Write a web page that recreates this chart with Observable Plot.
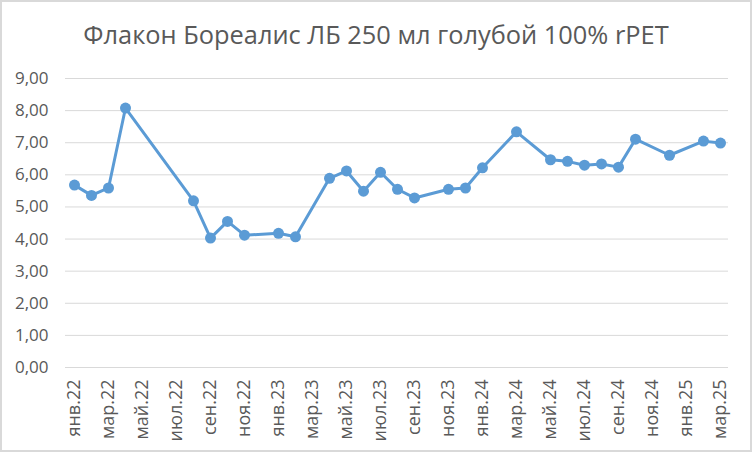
<!DOCTYPE html>
<html>
<head>
<meta charset="utf-8">
<script src="https://cdn.jsdelivr.net/npm/d3@7"></script>
<script src="https://cdn.jsdelivr.net/npm/@observablehq/plot@0.6"></script>
<style>
  html, body { margin: 0; padding: 0; background: #fff; }
  #wrap { position: relative; width: 752px; height: 452px; overflow: hidden; font-family: "Open Sans", sans-serif; }
  #title { height: 60px; box-sizing: border-box; padding-top: 19px; text-align: center; font-size: 25.4px; line-height: 30px; color: #595959; white-space: nowrap; }
  #frame { position: absolute; left: 0; top: 0; width: 752px; height: 452px; box-sizing: border-box; border: 2px solid #d9d9d9; pointer-events: none; }
  svg { display: block; }
</style>
</head>
<body>
<div id="wrap">
  <div id="title">Флакон Бореалис ЛБ 250 мл голубой 100% rPET</div>
  <div id="chart"></div>
  <div id="frame"></div>
</div>
<script>
const title = "Флакон Бореалис ЛБ 250 мл голубой 100% rPET";
const months = [
  "янв.22","фев.22","мар.22","апр.22","май.22","июн.22","июл.22","авг.22","сен.22","окт.22","ноя.22","дек.22",
  "янв.23","фев.23","мар.23","апр.23","май.23","июн.23","июл.23","авг.23","сен.23","окт.23","ноя.23","дек.23",
  "янв.24","фев.24","мар.24","апр.24","май.24","июн.24","июл.24","авг.24","сен.24","окт.24","ноя.24","дек.24",
  "янв.25","фев.25","мар.25"
];
const prices = [
  5.68, 5.36, 5.59, 8.08, null, null, null, 5.19, 4.03, 4.55, 4.12, null,
  4.18, 4.07, null, 5.89, 6.12, 5.49, 6.08, 5.55, 5.28, null, 5.55, 5.59,
  6.22, null, 7.34, null, 6.47, 6.42, 6.30, 6.34, 6.24, 7.11, null, 6.61,
  null, 7.05, 6.99
];
const yTicks = [0, 1, 2, 3, 4, 5, 6, 7, 8, 9];
const xTicks = months.filter((d, i) => i % 2 === 0);

const data = months.map((m, i) => ({month: m, price: prices[i]})).filter(d => d.price != null);

const color = "#5b9bd5";
const chart = Plot.plot({
  width: 752,
  height: 392,
  marginTop: 18,
  marginLeft: 65,
  marginRight: 24,
  marginBottom: 85,
  style: { fontFamily: "Open Sans, sans-serif", fontSize: "17px", color: "#595959", background: "#fff" },
  x: { type: "point", domain: months, padding: 0.5, label: null },
  y: { domain: [0, 9], label: null },
  marks: [
    Plot.gridY(yTicks, { stroke: "#d9d9d9", strokeOpacity: 1, strokeWidth: 1 }),
    Plot.axisY(yTicks, { tickSize: 0, tickPadding: 17, tickFormat: d => d.toFixed(2).replace(".", ","), fill: "#595959", fontSize: 17 }),
    Plot.axisX(xTicks, { tickSize: 0, tickPadding: 12, tickRotate: -90, fill: "#595959", fontSize: 18 }),
    Plot.line(data, { x: "month", y: "price", stroke: color, strokeWidth: 3 }),
    Plot.dot(data, { x: "month", y: "price", r: 5.5, fill: color, stroke: "none" })
  ]
});
document.getElementById("chart").appendChild(chart);
</script>
</body>
</html>
